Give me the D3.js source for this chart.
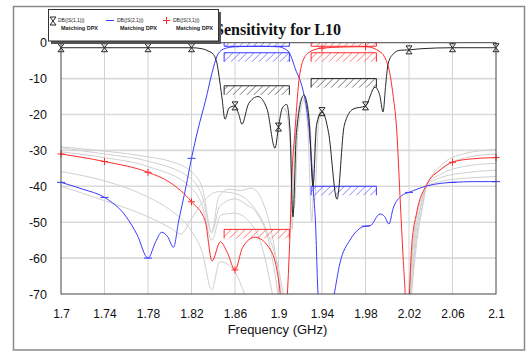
<!DOCTYPE html>
<html>
<head>
<meta charset="utf-8">
<script src="https://cdn.jsdelivr.net/npm/d3@7"></script>
<style>
  body { margin: 0; background: #fff; }
  svg { display: block; font-family: "Liberation Sans", Arial, sans-serif; }
</style>
</head>
<body>
<div id="chart"></div>
<script>
// Sensitivity for L10 - duplexer S-parameters with tuning sweeps

// ---- data ----
const xTicks = [1.7, 1.74, 1.78, 1.82, 1.86, 1.9, 1.94, 1.98, 2.02, 2.06, 2.1];
const xTickLabels = ['1.7', '1.74', '1.78', '1.82', '1.86', '1.9', '1.94', '1.98', '2.02', '2.06', '2.1'];
const yTicks = [0, -10, -20, -30, -40, -50, -60, -70];

// [GHz, dB]
const s11 = [
  [1.70, -1.4], [1.74, -1.4], [1.78, -1.4], [1.82, -1.4], [1.83, -1.7], [1.836, -2.4],
  [1.840, -3.2], [1.8432, -5.5], [1.8478, -14.8], [1.8508, -21.3], [1.8545, -18.2],
  [1.86, -17.6], [1.8635, -20], [1.8664, -22.7], [1.8725, -17], [1.8811, -15],
  [1.8895, -18.5], [1.8968, -29.4], [1.90, -23.5], [1.9035, -18.2], [1.9075, -17.2],
  [1.9105, -24], [1.9133, -48.5], [1.9165, -25], [1.9234, -14.6], [1.928, -21],
  [1.9317, -40], [1.935, -23], [1.94, -19.2], [1.946, -25], [1.9538, -43.6],
  [1.9605, -23], [1.9685, -18.5], [1.98, -17.6], [1.9887, -12.4], [1.993, -14.5],
  [1.9961, -19.3], [1.9985, -12], [2.0007, -6], [2.0053, -3.2], [2.0117, -2.1],
  [2.02, -2.0], [2.03, -1.7], [2.06, -1.4], [2.1, -1.4]
];

const s21 = [
  [1.70, -38.9], [1.72, -40.8], [1.74, -43.1], [1.76, -48.5], [1.77, -53.5],
  [1.78, -60], [1.787, -55.5], [1.7925, -52.8], [1.798, -54], [1.8035, -57],
  [1.808, -50], [1.815, -40], [1.82, -32.2], [1.826, -24.1], [1.833, -16],
  [1.839, -8.3], [1.8435, -3.7], [1.848, -2], [1.855, -1.3], [1.86, -1.1], [1.88, -1.0],
  [1.90, -1.1], [1.905, -1.6], [1.91, -2.8], [1.9155, -7.3], [1.9225, -13.2],
  [1.926, -18.6], [1.929, -27], [1.932, -41], [1.934, -50], [1.9365, -70.5],
  [1.944, -82], [1.951, -70.5], [1.9565, -61.4], [1.9657, -55], [1.9749, -51.7],
  [1.98, -51.1], [1.9841, -51], [1.9933, -47.7], [1.9975, -48.4], [2.0016, -50.5],
  [2.0053, -46.3], [2.0133, -42.6], [2.02, -41.7], [2.0363, -39.9], [2.0513, -39.1],
  [2.06, -38.9], [2.08, -38.7], [2.1, -38.7]
];

const s31 = [
  [1.70, -31], [1.74, -33.1], [1.78, -36.1], [1.80, -38.9], [1.82, -44.3],
  [1.8325, -49.6], [1.8389, -60.8], [1.8465, -55.5], [1.853, -58.5], [1.86, -63.3],
  [1.867, -57], [1.8784, -54.2], [1.8922, -57.5], [1.8983, -63], [1.9014, -69.5],
  [1.905, -85], [1.9081, -70.5], [1.9106, -52.8], [1.9121, -38.8], [1.9152, -24.3],
  [1.9182, -12.3], [1.9228, -4.8], [1.929, -2.5], [1.94, -1.5], [1.96, -1.2],
  [1.98, -1.1], [1.9933, -2.5], [2.001, -6.7], [2.0055, -15], [2.0087, -24.3],
  [2.0117, -42.6], [2.0148, -61], [2.0163, -68.8], [2.0183, -85], [2.0203, -70.5],
  [2.0225, -56.6], [2.0271, -47.3], [2.0363, -39.5], [2.0485, -35.5], [2.06, -33.3],
  [2.0761, -32.4], [2.1, -32]
];

// tuning sweep traces (grey)
const graySweepsLow = [
  [[1.70, -29], [1.74, -30.2], [1.78, -31.8], [1.80, -33], [1.82, -36], [1.83, -40.5], [1.8386, -52.7], [1.845, -43], [1.855, -40.8], [1.865, -41.2], [1.875, -40.5], [1.885, -44], [1.895, -55], [1.903, -71]],
  [[1.70, -29.3], [1.74, -31], [1.78, -33], [1.82, -38], [1.83, -43], [1.8386, -53], [1.846, -45.5], [1.86, -43.5], [1.87, -45], [1.88, -47.5], [1.893, -58], [1.90, -71]],
  [[1.70, -30.4], [1.74, -32], [1.78, -34.5], [1.82, -40.5], [1.83, -45.5], [1.8386, -55], [1.847, -48], [1.86, -47.5], [1.872, -49.5], [1.885, -57], [1.895, -71]],
  [[1.70, -35.9], [1.74, -38.5], [1.78, -43], [1.80, -46.5], [1.82, -52.5], [1.83, -58.5], [1.8386, -68.8], [1.846, -61], [1.858, -63], [1.87, -71]],
  [[1.70, -40], [1.74, -44], [1.78, -48.5], [1.80, -51.5], [1.81, -53.3], [1.82, -49], [1.83, -44.5], [1.845, -41.5], [1.86, -42], [1.875, -45], [1.89, -53], [1.90, -63], [1.905, -71]]
];

const graySweepsHigh = [
  [[2.0195, -71], [2.025, -52], [2.03, -44.5], [2.0365, -39.4], [2.05, -34], [2.07, -31], [2.1, -29.7]],
  [[2.0198, -71], [2.0255, -53], [2.031, -45], [2.0365, -39.5], [2.05, -35], [2.07, -32.2], [2.1, -31]],
  [[2.021, -71], [2.026, -54], [2.031, -45.5], [2.0365, -39.6], [2.05, -36.5], [2.07, -34.5], [2.1, -33.6]],
  [[2.0215, -71], [2.0265, -55], [2.032, -46], [2.0365, -39.8], [2.05, -37.5], [2.07, -36.3], [2.1, -35.5]],
  [[2.022, -71], [2.027, -56], [2.032, -46.5], [2.0365, -40], [2.05, -38.6], [2.07, -37.8], [2.1, -37.3]]
];

const graySweepsS11 = [
  [[1.905, -18.5], [1.908, -20], [1.9115, -28], [1.9145, -46], [1.918, -24], [1.9245, -15.5], [1.929, -23], [1.933, -44], [1.937, -22], [1.9415, -19]],
  [[1.905, -18], [1.9075, -19.5], [1.911, -30], [1.9125, -52], [1.915, -28], [1.922, -15], [1.927, -24], [1.9305, -50], [1.934, -25], [1.9385, -18.8]]
];

// spec limit masks
const specBoxes = [
  { series: 's21', f1: 1.85, f2: 1.91, level: -1.0, side: 'above' },
  { series: 's21', f1: 1.85, f2: 1.91, level: -2.8, side: 'below' },
  { series: 's21', f1: 1.93, f2: 1.99, level: -40, side: 'below' },
  { series: 's31', f1: 1.93, f2: 1.99, level: -1.0, side: 'above' },
  { series: 's31', f1: 1.93, f2: 1.99, level: -2.8, side: 'below' },
  { series: 's31', f1: 1.85, f2: 1.91, level: -52, side: 'below' },
  { series: 's11', f1: 1.85, f2: 1.91, level: -12, side: 'below' },
  { series: 's11', f1: 1.93, f2: 1.99, level: -10, side: 'below' }
];

const legendNames = ['DB(|S(1,1)|)', 'DB(|S(2,1)|)', 'DB(|S(3,1)|)'];
const legendSub = 'Matching DPX';

// ---- layout ----
const W = 528, H = 352;
const margin = { top: 42.7, left: 61, right: 32, bottom: 58 };
const width = W - margin.left - margin.right;   // 435
const height = H - margin.top - margin.bottom;  // ~251
const colors = { s11: '#262626', s21: '#3a3aff', s31: '#ff2a2a' };

const svg = d3.select('#chart').append('svg')
  .attr('width', W).attr('height', H);

// outer frame
svg.append('rect')
  .attr('x', 13.5).attr('y', 6.5).attr('width', 511).attr('height', 343.5)
  .attr('fill', 'none').attr('stroke', '#8a8a8a').attr('stroke-width', 1.5);

const defs = svg.append('defs');
defs.append('clipPath').attr('id', 'plotclip')
  .append('rect').attr('width', width).attr('height', height);

Object.keys(colors).forEach(k => {
  const p = defs.append('pattern')
    .attr('id', 'hatch-' + k)
    .attr('patternUnits', 'userSpaceOnUse')
    .attr('width', 7).attr('height', 7);
  p.append('path')
    .attr('d', 'M-1,8 L8,-1')
    .attr('stroke', colors[k]).attr('stroke-width', 0.8).attr('opacity', 0.8);
});

const g = svg.append('g').attr('transform', `translate(${margin.left},${margin.top})`);

const x = d3.scaleLinear().domain([1.7, 2.1]).range([0, width]);
const y = d3.scaleLinear().domain([-70, 0]).range([height, 0]);

// grid
g.append('g').selectAll('line').data(yTicks.filter(d => d > -70 && d < 0)).enter().append('line')
  .attr('x1', 0).attr('x2', width).attr('y1', d => y(d)).attr('y2', d => y(d))
  .attr('stroke', '#dadada').attr('stroke-width', 1.6);
g.append('g').selectAll('line').data(xTicks.slice(1, -1)).enter().append('line')
  .attr('x1', d => x(d)).attr('x2', d => x(d)).attr('y1', 0).attr('y2', height)
  .attr('stroke', '#d2d2d2').attr('stroke-width', 1);

// axes
const xAxis = d3.axisBottom(x).tickValues(xTicks)
  .tickFormat((d, i) => xTickLabels[i]).tickSize(0).tickPadding(15);
const yAxis = d3.axisLeft(y).tickValues(yTicks)
  .tickFormat(d => String(d)).tickSize(0).tickPadding(14);

g.append('g').attr('transform', `translate(0,${height})`).call(xAxis)
  .call(a => a.select('.domain').remove())
  .selectAll('text').attr('font-size', 12).attr('fill', '#111')
  .attr('font-family', '"Liberation Sans", Arial, sans-serif');
g.append('g').call(yAxis)
  .call(a => a.select('.domain').remove())
  .selectAll('text').attr('font-size', 12.5).attr('fill', '#111')
  .attr('font-family', '"Liberation Sans", Arial, sans-serif');

g.append('text')
  .attr('x', width / 2 - 1).attr('y', height + 40)
  .attr('text-anchor', 'middle').attr('font-size', 13).attr('fill', '#111')
  .text('Frequency (GHz)');

// plot contents
const plot = g.append('g').attr('clip-path', 'url(#plotclip)');

const line = d3.line()
  .x(d => x(d[0])).y(d => y(d[1]))
  .curve(d3.curveMonotoneX);

[...graySweepsLow, ...graySweepsHigh, ...graySweepsS11].forEach(tr => {
  plot.append('path').datum(tr)
    .attr('d', line).attr('fill', 'none')
    .attr('stroke', '#cfcfcf').attr('stroke-width', 1);
});

// spec boxes
const depth = 9;
specBoxes.forEach(b => {
  const x1 = x(b.f1), x2 = x(b.f2), yl = y(b.level);
  const y0 = b.side === 'below' ? yl : yl - depth;
  plot.append('rect')
    .attr('x', x1).attr('y', y0).attr('width', x2 - x1).attr('height', depth)
    .attr('fill', `url(#hatch-${b.series})`);
  plot.append('path')
    .attr('d', `M${x1},${b.side === 'below' ? yl + depth : yl - depth}V${yl}H${x2}V${b.side === 'below' ? yl + depth : yl - depth}`)
    .attr('fill', 'none').attr('stroke', colors[b.series]).attr('stroke-width', 1);
});

const series = [['s21', s21], ['s31', s31], ['s11', s11]];
series.forEach(([k, data]) => {
  plot.append('path').datum(data)
    .attr('d', line).attr('fill', 'none')
    .attr('stroke', colors[k]).attr('stroke-width', 1);
});

// markers at tick frequencies
const markerPath = {
  s11: 'M-3,-4H3L-3,4H3Z',
  s21: 'M-4,0H4',
  s31: 'M-3.5,0H3.5M0,-3.5V3.5'
};
const onTick = d => xTicks.some(t => Math.abs(t - d[0]) < 1e-6) && d[1] >= -70 && d[1] <= 0;
series.forEach(([k, data]) => {
  g.append('g').selectAll('path').data(data.filter(onTick)).enter().append('path')
    .attr('transform', d => `translate(${x(d[0])},${y(d[1])})`)
    .attr('d', markerPath[k])
    .attr('fill', 'none').attr('stroke', colors[k]).attr('stroke-width', 1);
});

// plot frame
g.append('rect').attr('width', width).attr('height', height)
  .attr('fill', 'none').attr('stroke', '#444').attr('stroke-width', 1);

// title
svg.append('text')
  .attr('x', 278).attr('y', 35)
  .attr('text-anchor', 'middle')
  .attr('font-family', '"Liberation Serif", "Times New Roman", serif')
  .attr('font-weight', 'bold').attr('font-size', 16).attr('fill', '#111')
  .text('Sensitivity for L10');

// legend
const lg = svg.append('g').attr('transform', 'translate(48,9)');
lg.append('rect').attr('x', 3).attr('y', 3).attr('width', 170).attr('height', 32).attr('fill', '#555');
lg.append('rect').attr('x', 0.5).attr('y', 0.5).attr('width', 170).attr('height', 31.5)
  .attr('fill', '#fff').attr('stroke', '#333').attr('stroke-width', 1);

const legendItems = [
  { key: 's11', sx: 5, tx: 10 },
  { key: 's21', sx: 62, tx: 69 },
  { key: 's31', sx: 118.5, tx: 125 }
];
const items = lg.selectAll('.legend-item').data(legendItems).enter().append('g')
  .attr('class', 'legend-item');
items.append('path')
  .attr('transform', d => `translate(${d.sx},${d.key === 's11' ? 12 : 11.5})`)
  .attr('d', d => markerPath[d.key])
  .attr('fill', 'none').attr('stroke', d => colors[d.key]).attr('stroke-width', 1);
items.append('text')
  .attr('x', d => d.tx).attr('y', 13)
  .attr('font-size', 5).attr('fill', '#222')
  .text((d, i) => legendNames[i]);
items.append('text')
  .attr('x', d => d.tx + 3).attr('y', 20.5)
  .attr('font-size', 5.5).attr('font-weight', 'bold').attr('fill', '#222')
  .text(legendSub);
</script>
</body>
</html>
